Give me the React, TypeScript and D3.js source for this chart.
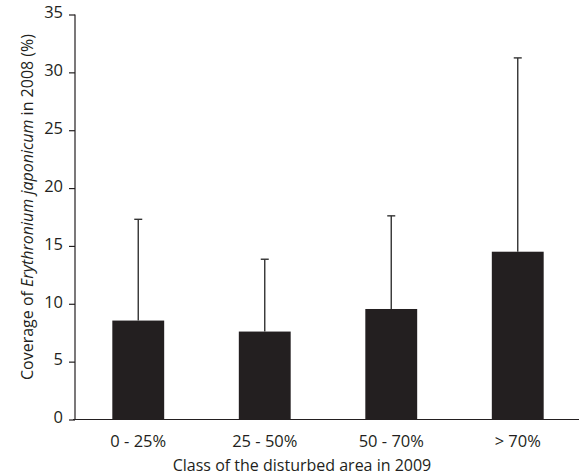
import React, { useEffect, useRef } from 'react';
import * as d3 from 'd3';

const categories = ['0 - 25%', '25 - 50%', '50 - 70%', '> 70%'];
const means = [8.55, 7.6, 9.55, 14.5];
const upper = [17.3, 13.85, 17.6, 31.25];
const yTicks = [0, 5, 10, 15, 20, 25, 30, 35];

const ink = '#231f20';
const font = '"Open Sans", sans-serif';

function App() {
  const svgRef = useRef<SVGSVGElement>(null);

  useEffect(() => {
    const svg = d3.select(svgRef.current);
    svg.selectAll('*').remove();

    const x = d3.scaleBand().domain(categories).range([75, 581]).paddingInner(0.59).paddingOuter(0.295);
    const y = d3.scaleLinear().domain([0, 35]).range([419.5, 14.5]);

    // Bars
    svg.selectAll('.bar')
      .data(categories)
      .enter()
      .append('rect')
      .attr('x', d => x(d)!)
      .attr('width', x.bandwidth())
      .attr('y', (d, i) => y(means[i]))
      .attr('height', (d, i) => y(0) - y(means[i]))
      .attr('fill', ink);

    // Error bars (upper only)
    const err = svg.append('g').attr('stroke', '#333').attr('stroke-width', 1.4);
    categories.forEach((c, i) => {
      const cx = x(c)! + x.bandwidth() / 2;
      err.append('line').attr('x1', cx).attr('x2', cx).attr('y1', y(means[i])).attr('y2', y(upper[i]));
      err.append('line').attr('x1', cx - 4).attr('x2', cx + 4).attr('y1', y(upper[i])).attr('y2', y(upper[i]));
    });

    // y axis
    const yAxis = svg.append('g')
      .attr('transform', 'translate(75,0)')
      .call(d3.axisLeft(y).tickValues(yTicks).tickSize(6).tickPadding(6));
    yAxis.select('.domain').attr('stroke', ink).attr('stroke-width', 1.2).attr('d', `M0,${y(35)}V${y(0)}`);
    yAxis.selectAll('.tick line').attr('stroke', ink).attr('stroke-width', 1.2);
    yAxis.selectAll('.tick text')
      .attr('fill', ink)
      .attr('dy', '0.2em')
      .style('font-family', font)
      .style('font-size', '16.5px');

    // x axis
    const xAxis = svg.append('g')
      .attr('transform', `translate(0,${y(0)})`)
      .call(d3.axisBottom(x).tickSize(0).tickPadding(16));
    xAxis.select('.domain').attr('stroke', ink).attr('stroke-width', 1.2).attr('d', 'M73,0H579');
    xAxis.selectAll('.tick text').attr('fill', ink).style('font-family', font).style('font-size', '16.5px');

    // Axis titles
    svg.append('text')
      .attr('x', 302)
      .attr('y', 470.5)
      .attr('text-anchor', 'middle')
      .attr('fill', ink)
      .style('font-family', font)
      .style('font-size', '16px')
      .text('Class of the disturbed area in 2009');

    const yt = svg.append('text')
      .attr('transform', 'translate(33,207) rotate(-90)')
      .attr('text-anchor', 'middle')
      .attr('fill', ink)
      .style('font-family', font)
      .style('font-size', '16px');
    yt.append('tspan').text('Coverage of ');
    yt.append('tspan').style('font-style', 'italic').text('Erythronium japonicum');
    yt.append('tspan').text(' in 2008 (%)');
  }, []);

  return (
    <div style={{ position: 'absolute', left: 0, top: 0 }}>
      <svg ref={svgRef} width={579} height={474}></svg>
    </div>
  );
}

export default App;
